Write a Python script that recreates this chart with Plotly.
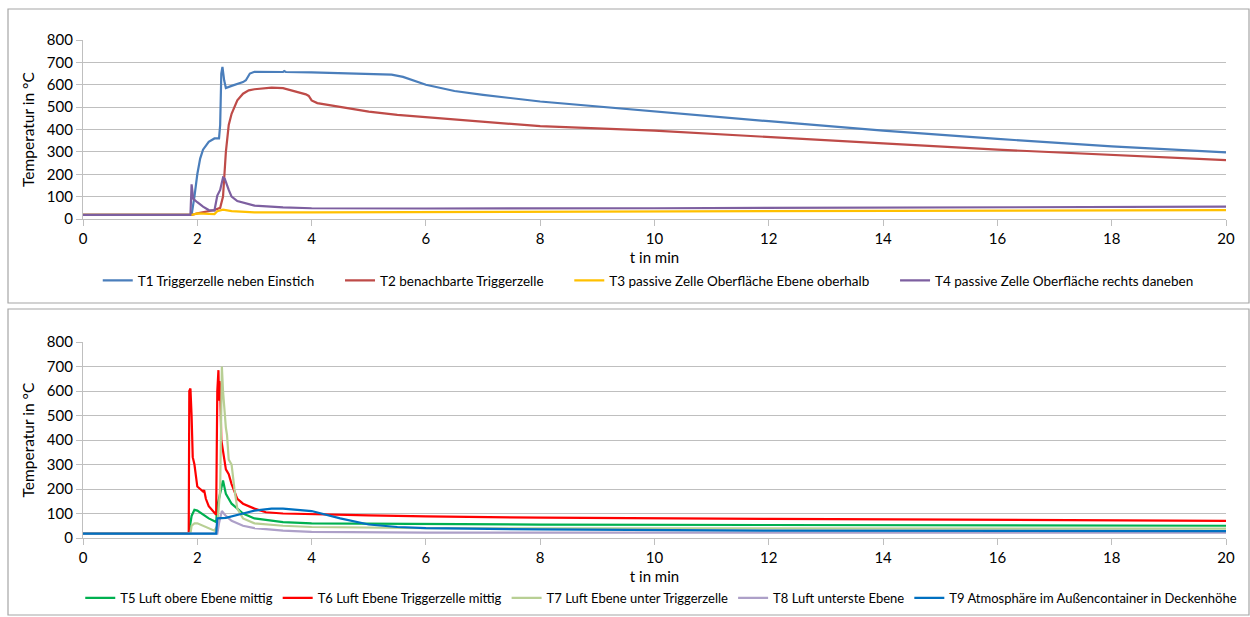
import plotly.graph_objects as go

# ---------------- data ----------------
t1_t = [0, 1.9, 1.95, 2.0, 2.05, 2.1, 2.2, 2.3, 2.38, 2.4, 2.42, 2.44, 2.47, 2.5, 2.6, 2.8, 2.85, 2.92, 3.0, 3.5, 3.52, 3.55, 4, 5, 5.4, 5.6, 6, 6.5, 7, 8, 10, 12, 14, 16, 18, 20]
t1_v = [18, 18, 100, 200, 270, 310, 345, 360, 360, 420, 650, 680, 620, 585, 595, 612, 620, 650, 658, 657, 661, 657, 655, 650, 645, 635, 600, 572, 555, 525, 480, 437, 395, 358, 325, 298]

t2_t = [0, 1.9, 2.0, 2.2, 2.3, 2.4, 2.45, 2.5, 2.55, 2.6, 2.7, 2.8, 2.9, 3.0, 3.3, 3.5, 3.7, 3.9, 3.95, 4.0, 4.1, 4.5, 5, 5.5, 6, 6.5, 7, 8, 10, 12, 14, 16, 18, 20]
t2_v = [18, 18, 25, 35, 40, 50, 100, 300, 420, 470, 530, 560, 575, 580, 587, 585, 572, 557, 550, 530, 518, 500, 480, 465, 455, 445, 435, 415, 395, 365, 338, 310, 285, 263]

t3_t = [0, 1.9, 2.0, 2.3, 2.35, 2.45, 2.6, 3.0, 4, 10, 20]
t3_v = [18, 18, 25, 22, 35, 42, 35, 30, 30, 33, 40]

t4_t = [0, 1.88, 1.9, 1.93, 2.0, 2.1, 2.2, 2.3, 2.35, 2.4, 2.45, 2.48, 2.55, 2.6, 2.7, 3.0, 3.5, 4, 6, 10, 20]
t4_v = [18, 18, 155, 90, 75, 55, 40, 38, 105, 130, 185, 180, 130, 100, 80, 60, 52, 48, 47, 48, 55]

t5_t = [0, 1.85, 1.9, 1.95, 2.0, 2.1, 2.2, 2.33, 2.35, 2.45, 2.5, 2.6, 2.8, 3.0, 3.5, 4, 5, 6, 8, 12, 20]
t5_v = [18, 18, 90, 115, 112, 95, 80, 65, 130, 235, 180, 140, 100, 80, 65, 60, 58, 58, 55, 53, 50]

t6_t = [0, 1.85, 1.86, 1.88, 1.9, 1.92, 1.95, 2.0, 2.05, 2.1, 2.12, 2.15, 2.2, 2.3, 2.33, 2.35, 2.37, 2.38, 2.39, 2.4, 2.42, 2.45, 2.5, 2.55, 2.6, 2.7, 2.8, 3.0, 3.2, 3.5, 4, 5, 6, 8, 12, 16, 20]
t6_v = [18, 18, 600, 610, 500, 330, 300, 210, 200, 190, 195, 160, 130, 100, 95, 600, 685, 560, 640, 620, 400, 350, 280, 260, 220, 160, 140, 120, 105, 100, 97, 92, 88, 83, 78, 75, 70]

t7_t = [0, 1.88, 1.9, 1.95, 2.0, 2.1, 2.2, 2.3, 2.35, 2.4, 2.43, 2.45, 2.5, 2.52, 2.55, 2.6, 2.65, 2.7, 2.8, 3.0, 3.5, 4, 6, 20]
t7_v = [18, 18, 50, 60, 60, 50, 40, 30, 50, 200, 700, 600, 450, 420, 320, 300, 200, 120, 80, 60, 50, 45, 40, 38]

t8_t = [0, 2.35, 2.38, 2.43, 2.5, 2.6, 2.8, 3.0, 3.5, 4, 6, 20]
t8_v = [18, 18, 60, 110, 90, 70, 50, 40, 30, 25, 22, 22]

t9_t = [0, 2.33, 2.35, 2.5, 2.8, 3.0, 3.3, 3.5, 4, 4.5, 5, 5.5, 6, 8, 12, 20]
t9_v = [18, 18, 80, 82, 100, 112, 120, 120, 110, 80, 55, 45, 40, 35, 30, 28]

top_names = ["T1 Triggerzelle neben Einstich", "T2 benachbarte Triggerzelle",
             "T3 passive Zelle Oberfläche Ebene oberhalb", "T4 passive Zelle Oberfläche rechts daneben"]
bot_names = ["T5 Luft obere Ebene mittig", "T6 Luft Ebene Triggerzelle mittig",
             "T7 Luft Ebene unter Triggerzelle", "T8 Luft unterste Ebene",
             "T9 Atmosphäre im Außencontainer in Deckenhöhe"]
x_ticks = [0, 2, 4, 6, 8, 10, 12, 14, 16, 18, 20]
y_ticks = [0, 100, 200, 300, 400, 500, 600, 700, 800]

# ---------------- styling ----------------
top_colors = ["#4A7EBB", "#BE4B48", "#FFC000", "#7D5FA0"]
bot_colors = ["#00B050", "#FF0000", "#B8CF94", "#ADA0C8", "#0070C0"]
FONT = "Lato, 'Open Sans', sans-serif"
GRID = "#BFBFBF"
PAD = "\u00a0" * 6

W, H = 1250, 617
def px_x(p): return p / W
def px_y(p): return 1 - p / H

fig = go.Figure()

for tt, vv, nm, c in zip([t1_t, t2_t, t3_t, t4_t], [t1_v, t2_v, t3_v, t4_v], top_names, top_colors):
    fig.add_trace(go.Scatter(x=tt, y=vv, name=nm + PAD, mode="lines", line=dict(color=c, width=2.2),
                             xaxis="x", yaxis="y", legend="legend"))
for tt, vv, nm, c in zip([t5_t, t6_t, t7_t, t8_t, t9_t], [t5_v, t6_v, t7_v, t8_v, t9_v], bot_names, bot_colors):
    fig.add_trace(go.Scatter(x=tt, y=vv, name=nm, mode="lines", line=dict(color=c, width=2.2),
                             xaxis="x2", yaxis="y2", legend="legend2"))

xdom = [px_x(83), px_x(1226)]
ax_common = dict(range=[0, 20], tickvals=x_ticks, showgrid=False, showline=True, linecolor=GRID,
                 linewidth=1.3, ticks="outside", tickcolor=GRID, ticklen=6, tickwidth=1.3,
                 tickfont=dict(family=FONT, size=15, color="#000"), zeroline=False, automargin=False,
                 title=dict(font=dict(family=FONT, size=15, color="#000"), standoff=6))
ay_common = dict(range=[0, 800], tickvals=y_ticks, showgrid=True, gridcolor=GRID, gridwidth=1.3,
                 showline=True, linecolor=GRID, linewidth=1.3, ticks="outside", tickcolor=GRID,
                 ticklen=6, tickwidth=1.3, zeroline=False, automargin=False,
                 tickfont=dict(family=FONT, size=15, color="#000"),
                 title=dict(text="Temperatur in °C", font=dict(family=FONT, size=15.5, color="#000"), standoff=8))

fig.update_layout(
    width=W, height=H, margin=dict(l=0, r=0, t=0, b=0),
    paper_bgcolor="white", plot_bgcolor="white",
    xaxis=dict(domain=xdom, anchor="y", **{**ax_common, "title": {**ax_common["title"], "text": "t in min"}}),
    yaxis=dict(domain=[px_y(219), px_y(40)], anchor="x", **ay_common),
    xaxis2=dict(domain=xdom, anchor="y2", **{**ax_common, "title": {**ax_common["title"], "text": "t in min"}}),
    yaxis2=dict(domain=[px_y(538), px_y(342)], anchor="x2", **ay_common),
    legend=dict(orientation="h", x=0.527, xanchor="center", y=px_y(265), yanchor="top",
                font=dict(family=FONT, size=13.5, color="#000"), itemwidth=30,
                tracegroupgap=0, bgcolor="rgba(0,0,0,0)"),
    legend2=dict(orientation="h", x=0.529, xanchor="center", y=px_y(583), yanchor="top",
                 font=dict(family=FONT, size=13, color="#000"),
                 itemwidth=30, bgcolor="rgba(0,0,0,0)"),
    showlegend=True,
    shapes=[
        dict(type="rect", xref="paper", yref="paper", x0=px_x(8), x1=px_x(1249), y0=px_y(303), y1=px_y(9),
             line=dict(color="#A6A6A6", width=1.2), fillcolor="rgba(0,0,0,0)", layer="below"),
        dict(type="rect", xref="paper", yref="paper", x0=px_x(8), x1=px_x(1249), y0=px_y(615), y1=px_y(309),
             line=dict(color="#A6A6A6", width=1.2), fillcolor="rgba(0,0,0,0)", layer="below"),
    ],
)

fig.write_html("out.html", config={"displayModeBar": False},
               post_script="document.body.style.margin='0px';document.body.style.overflow='hidden';")
